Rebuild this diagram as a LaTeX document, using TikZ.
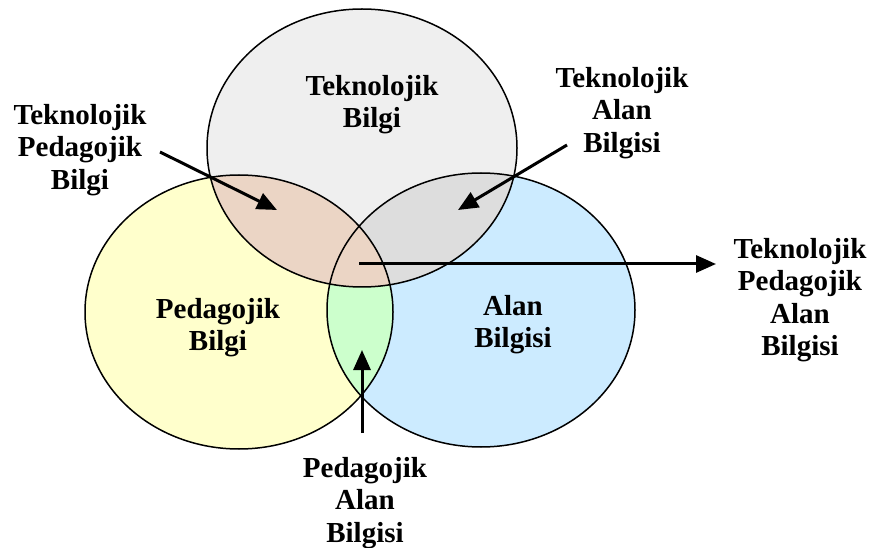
\documentclass[tikz,border=0pt]{standalone}
\usepackage{fontspec}
\setmainfont{Liberation Serif}
\usetikzlibrary{arrows.meta}
\definecolor{tkgrey}{HTML}{EFEFEF}
\definecolor{tagrey}{HTML}{DDDDDD}
\definecolor{pbyel}{HTML}{FFFFCC}
\definecolor{abblue}{HTML}{CCEBFF}
\definecolor{pagreen}{HTML}{CCFFCC}
\definecolor{tppeach}{HTML}{EBD5C5}
\tikzset{
  lbl/.style={align=center, inner sep=0pt, font=\fontsize{29}{32.5}\selectfont\bfseries},
  outl/.style={draw=black, line width=1.5pt},
  arr/.style={line width=3pt, -{Triangle[length=20pt,width=17pt]}}
}
\begin{document}
\begin{tikzpicture}[x=1pt,y=-1pt]
\useasboundingbox (0,0) rectangle (876,548);
\def\Tpath{(362,148) ellipse [x radius=155pt, y radius=139pt]}
\def\Ppath{(239,312) ellipse [x radius=154pt, y radius=137pt]}
\def\Apath{(481,310) ellipse [x radius=154pt, y radius=137pt]}
% base fills
\fill[tkgrey] \Tpath;
\fill[pbyel] \Ppath;
\fill[abblue] \Apath;
% T & A
\begin{scope}
  \clip \Tpath;
  \fill[tagrey] \Apath;
\end{scope}
% P & A
\begin{scope}
  \clip \Ppath;
  \fill[pagreen] \Apath;
\end{scope}
% T & P (incl. centre)
\begin{scope}
  \clip \Tpath;
  \fill[tppeach] \Ppath;
\end{scope}
% outlines
\draw[outl] \Tpath;
\draw[outl] \Ppath;
\draw[outl] \Apath;
% labels
\node[lbl] (tb) at (372,104.5) {Teknolojik\\Bilgi};
\node[lbl] (pb) at (218,327.5) {Pedagojik\\Bilgi};
\node[lbl] (ab) at (513,324.5) {Alan\\Bilgisi};
\node[lbl] (tpb) at (80,150) {Teknolojik\\Pedagojik\\Bilgi};
\node[lbl] (tab) at (622,113) {Teknolojik\\Alan\\Bilgisi};
\node[lbl] (tpab) at (800,300) {Teknolojik\\Pedagojik\\Alan\\Bilgisi};
\node[lbl] (pab) at (365,503) {Pedagojik\\Alan\\Bilgisi};
% arrow end points
\coordinate (tpbS) at (160,152);
\coordinate (tpbE) at (277,210);
\coordinate (tabS) at (567,145);
\coordinate (tabE) at (458,210);
\coordinate (tpabS) at (359,264);
\coordinate (tpabE) at (716,264);
\coordinate (pabS) at (362,433);
\coordinate (pabE) at (362,350);
\draw[arr] (tpbS) -- (tpbE);
\draw[arr] (tabS) -- (tabE);
\draw[arr] (tpabS) -- (tpabE);
\draw[arr] (pabS) -- (pabE);
\end{tikzpicture}
\end{document}
